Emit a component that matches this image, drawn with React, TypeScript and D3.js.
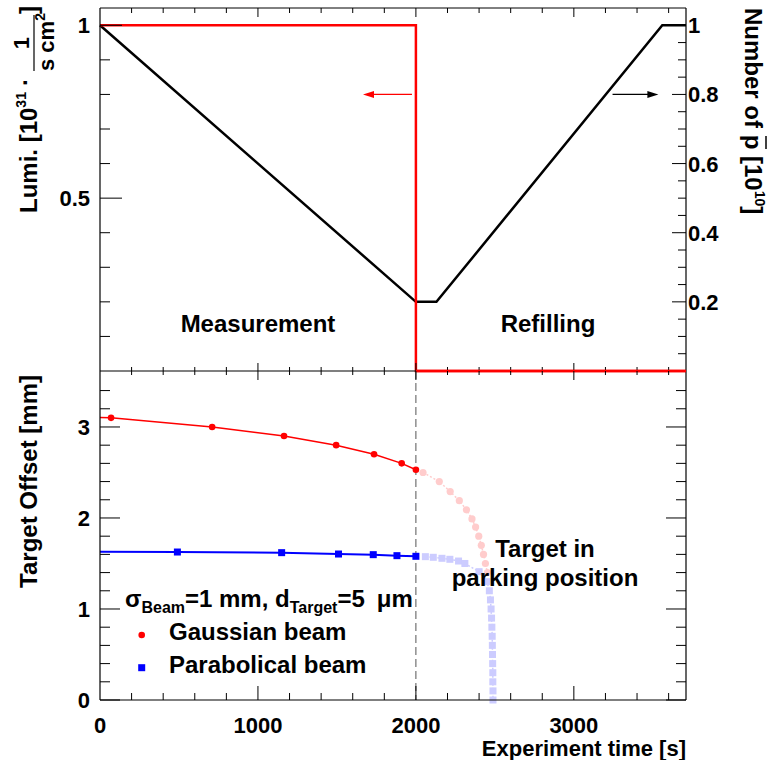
import React from "react";
import * as d3 from "d3";

// top pad: luminosity (left axis) and number of antiprotons (right axis)
const lumiTime = [0, 2000, 2000, 3710];
const lumiValue = [1, 1, 0, 0];
const pbarTime = [0, 2000, 2130, 3560, 3710];
const pbarValue = [1, 0.2, 0.2, 1, 1];

// bottom pad: target offset, measured part (solid) and parking part (faded)
const gaussLineStart = 3.105;
const gaussTime = [70, 710, 1165, 1495, 1735, 1910, 2000];
const gaussOffset = [3.1, 3.0, 2.9, 2.8, 2.7, 2.6, 2.53];
const gaussParkTime = [2045, 2148, 2217, 2275, 2320, 2355, 2378, 2398, 2414, 2428, 2440, 2453];
const gaussParkOffset = [2.5, 2.4, 2.29, 2.19, 2.09, 1.99, 1.9, 1.8, 1.7, 1.6, 1.5, 1.4];

const paraLineStart = 1.63;
const paraTime = [490, 1150, 1510, 1730, 1880, 2000];
const paraOffset = [1.626, 1.619, 1.604, 1.597, 1.586, 1.579];
const paraParkTime = [2060, 2110, 2165, 2215, 2270, 2310, 2400, 2450, 2465, 2472, 2476, 2479, 2481, 2483, 2484, 2485, 2486, 2487, 2487, 2488, 2488];
const paraParkOffset = [1.575, 1.568, 1.557, 1.546, 1.527, 1.5, 1.41, 1.3, 1.2, 1.1, 1.0, 0.9, 0.8, 0.7, 0.6, 0.5, 0.4, 0.3, 0.2, 0.1, 0.0];

const xTickLabels = ["0", "1000", "2000", "3000"];
const lumiTickLabels = ["0.5", "1"];
const pbarTickLabels = ["0.2", "0.4", "0.6", "0.8", "1"];
const offsetTickLabels = ["0", "1", "2", "3"];

const FONT = "'Liberation Sans', Arial, Helvetica, sans-serif";

export default function App() {
  const x = d3.scaleLinear().domain([0, 3710]).range([100, 686]);
  const yTop = d3.scaleLinear().domain([0, 1.05]).range([371, 8]);
  const yBot = d3.scaleLinear().domain([0, 3.615]).range([700, 371]);

  const zip = (a: number[], b: number[]) => a.map((t, i) => [t, b[i]] as [number, number]);

  const lineTop = d3.line<[number, number]>().x((d) => x(d[0])).y((d) => yTop(d[1]));
  const lineBot = d3.line<[number, number]>().x((d) => x(d[0])).y((d) => yBot(d[1]));

  const gaussPts = zip(gaussTime, gaussOffset);
  const paraPts = zip(paraTime, paraOffset);
  const gaussPark = zip(gaussParkTime, gaussParkOffset);
  const paraPark = zip(paraParkTime, paraParkOffset);

  const xMinor = d3.range(200, 3701, 200).filter((v) => v % 1000 !== 0);
  const xMajor = d3.range(1000, 3001, 1000);

  const lumiMinor = d3.range(1, 11).map((v) => v / 10).filter((v) => v !== 0.5 && v !== 1);
  const pbarMinor = d3.range(1, 21).map((v) => v / 20).filter((v) => Math.round(v * 20) % 4 !== 0);
  const offMinor = d3.range(1, 18).map((v) => v / 5).filter((v) => Math.abs(v - Math.round(v)) > 1e-6);

  const tp = { fontFamily: FONT, fontWeight: "bold" as const };

  const arrowHead = (tipX: number, y: number, dir: number, color: string) => (
    <path d={`M${tipX},${y} L${tipX - dir * 11},${y - 3.5} L${tipX - dir * 11},${y + 3.5} Z`} fill={color} />
  );

  return (
    <svg width={774} height={760} style={{ position: "absolute", left: 0, top: 0, background: "#fff" }}>
      <rect width={774} height={760} fill="#fff" />
      {/* ---------- top pad ---------- */}
      <g>
        <path d={lineTop(zip(pbarTime, pbarValue)) || ""} fill="none" stroke="#000" strokeWidth={2.5} />
        <path d={lineTop(zip(lumiTime, lumiValue)) || ""} fill="none" stroke="#ff0000" strokeWidth={2.5} />

        {/* frame */}
        <line x1={100} x2={686} y1={yTop(1.05)} y2={yTop(1.05)} stroke="#000" strokeWidth={1} />
        <line x1={100} x2={100} y1={yTop(1.05)} y2={yTop(0)} stroke="#000" strokeWidth={1.2} />
        <line x1={686} x2={686} y1={yTop(1.05)} y2={yTop(0)} stroke="#000" strokeWidth={1.2} />

        {xMinor.map((v) => (
          <g key={"tm" + v}>
            <line x1={x(v)} x2={x(v)} y1={8} y2={13} stroke="#000" />
            <line x1={x(v)} x2={x(v)} y1={371} y2={367} stroke="#000" />
          </g>
        ))}
        {xMajor.map((v) => (
          <g key={"tM" + v}>
            <line x1={x(v)} x2={x(v)} y1={8} y2={17} stroke="#000" />
            <line x1={x(v)} x2={x(v)} y1={371} y2={363} stroke="#000" />
          </g>
        ))}

        {/* left axis */}
        {lumiMinor.map((v) => (
          <line key={"lm" + v} x1={100} x2={110} y1={yTop(v)} y2={yTop(v)} stroke="#000" />
        ))}
        {lumiTickLabels.map((s) => (
          <g key={"lM" + s}>
            <line x1={100} x2={122} y1={yTop(+s)} y2={yTop(+s)} stroke="#000" />
            <text x={90} y={yTop(+s) + 8} textAnchor="end" fontSize={22} {...tp}>{s}</text>
          </g>
        ))}

        {/* right axis */}
        {pbarMinor.map((v) => (
          <line key={"pm" + v} x1={686} x2={678} y1={yTop(v)} y2={yTop(v)} stroke="#000" />
        ))}
        {pbarTickLabels.map((s) => (
          <g key={"pM" + s}>
            <line x1={686} x2={672} y1={yTop(+s)} y2={yTop(+s)} stroke="#000" />
            <text x={688} y={yTop(+s) + 8} textAnchor="start" fontSize={22} {...tp}>{s}</text>
          </g>
        ))}

        {/* arrows */}
        <line x1={x(1975)} x2={x(1700)} y1={yTop(0.8)} y2={yTop(0.8)} stroke="#ff0000" strokeWidth={1.2} />
        {arrowHead(x(1665), yTop(0.8), -1, "#ff0000")}
        <line x1={x(3245)} x2={x(3500)} y1={yTop(0.8)} y2={yTop(0.8)} stroke="#000" strokeWidth={1.2} />
        {arrowHead(x(3535), yTop(0.8), 1, "#000")}

        <text x={258} y={332} textAnchor="middle" fontSize={24} {...tp}>Measurement</text>
        <text x={548} y={332} textAnchor="middle" fontSize={24} {...tp}>Refilling</text>

        {/* left title */}
        <g transform="translate(37,213) rotate(-90)" {...tp}>
          <text x={0} y={0} fontSize={24}>
            Lumi. [10<tspan dy={-11} fontSize={14}>31</tspan>
          </text>
          <text x={127} y={-4} fontSize={24}>·</text>
          <text x={170} y={-8} fontSize={22} textAnchor="middle">1</text>
          <line x1={142} x2={198} y1={-3} y2={-3} stroke="#000" strokeWidth={1.2} />
          <text x={142} y={17} fontSize={22}>
            s cm<tspan dy={-9} fontSize={14}>2</tspan>
          </text>
          <text x={199} y={0} fontSize={24}>]</text>
        </g>

        {/* right title */}
        <g transform="translate(745,8) rotate(90)" {...tp}>
          <text x={0} y={0} fontSize={24}>
            Number of p [10<tspan dy={-10} fontSize={14}>10</tspan>
            <tspan dy={10}>]</tspan>
          </text>
          <line x1={128} x2={141} y1={-21} y2={-21} stroke="#000" strokeWidth={1.5} />
        </g>
      </g>

      {/* ---------- bottom pad ---------- */}
      <g>
        <line x1={x(2000)} x2={x(2000)} y1={371} y2={700} stroke="#555" strokeWidth={1} strokeDasharray="8 4" />

        {/* faded parking curves */}
        <path d={lineBot(paraPark) || ""} fill="none" stroke="#ccccff" strokeWidth={1.5} strokeDasharray="2 2" />
        {paraPark.map((d, i) => (
          <rect key={"pp" + i} x={x(d[0]) - 3.5} y={yBot(d[1]) - 3.5} width={7} height={7} fill="#ccccff" />
        ))}
        <path d={lineBot(gaussPark) || ""} fill="none" stroke="#ffcccc" strokeWidth={1.5} strokeDasharray="2 2" />
        {gaussPark.map((d, i) => (
          <circle key={"gp" + i} cx={x(d[0])} cy={yBot(d[1])} r={3.6} fill="#ffcccc" />
        ))}

        {/* measured curves */}
        <path d={lineBot([[0, gaussLineStart], ...gaussPts]) || ""} fill="none" stroke="#ff0000" strokeWidth={1.5} />
        {gaussPts.map((d, i) => (
          <circle key={"g" + i} cx={x(d[0])} cy={yBot(d[1])} r={3.3} fill="#ff0000" />
        ))}
        <path d={lineBot([[0, paraLineStart], ...paraPts]) || ""} fill="none" stroke="#0000ff" strokeWidth={2} />
        {paraPts.map((d, i) => (
          <rect key={"p" + i} x={x(d[0]) - 3.5} y={yBot(d[1]) - 3.5} width={7} height={7} fill="#0000ff" />
        ))}

        {/* frame */}
        <line x1={100} x2={686} y1={371} y2={371} stroke="#000" strokeWidth={1.2} />
        <line x1={100} x2={686} y1={700} y2={700} stroke="#000" strokeWidth={1.2} />
        <line x1={100} x2={100} y1={371} y2={700} stroke="#000" strokeWidth={1.2} />
        <line x1={686} x2={686} y1={371} y2={700} stroke="#000" strokeWidth={1.2} />
        {/* red lumi zero line sits on the pad border */}
        <line x1={x(2000)} x2={686} y1={371} y2={371} stroke="#ff0000" strokeWidth={2.5} />

        {xMinor.map((v) => (
          <g key={"bm" + v}>
            <line x1={x(v)} x2={x(v)} y1={700} y2={693} stroke="#000" />
            <line x1={x(v)} x2={x(v)} y1={371} y2={375} stroke="#000" />
          </g>
        ))}
        {xMajor.map((v) => (
          <g key={"bM" + v}>
            <line x1={x(v)} x2={x(v)} y1={700} y2={686} stroke="#000" />
            <line x1={x(v)} x2={x(v)} y1={371} y2={380} stroke="#000" />
          </g>
        ))}
        {xTickLabels.map((s) => (
          <text key={"xl" + s} x={x(+s)} y={733} textAnchor="middle" fontSize={22} {...tp}>{s}</text>
        ))}

        {offMinor.map((v) => (
          <g key={"om" + v}>
            <line x1={100} x2={110} y1={yBot(v)} y2={yBot(v)} stroke="#000" />
            <line x1={686} x2={676} y1={yBot(v)} y2={yBot(v)} stroke="#000" />
          </g>
        ))}
        {offsetTickLabels.map((s) => (
          <g key={"oM" + s}>
            <line x1={100} x2={120} y1={yBot(+s)} y2={yBot(+s)} stroke="#000" />
            <line x1={686} x2={666} y1={yBot(+s)} y2={yBot(+s)} stroke="#000" />
            <text x={90} y={yBot(+s) + 8} textAnchor="end" fontSize={22} {...tp}>{s}</text>
          </g>
        ))}

        <text transform="translate(37,375) rotate(-90)" textAnchor="end" fontSize={24} {...tp}>
          Target Offset [mm]
        </text>
        <text x={686} y={756} textAnchor="end" fontSize={22} {...tp}>Experiment time [s]</text>

        {/* legend */}
        <text x={125} y={607} fontSize={24} {...tp}>
          σ<tspan dy={6} fontSize={16}>Beam</tspan>
          <tspan dy={-6}>=1 mm, d</tspan>
          <tspan dy={6} fontSize={16}>Target</tspan>
          <tspan dy={-6}>=5</tspan>
          <tspan dx={12}>μm</tspan>
        </text>
        <circle cx={141.7} cy={635} r={3.3} fill="#ff0000" />
        <text x={169} y={640} fontSize={24} {...tp}>Gaussian beam</text>
        <rect x={138.2} y={664.2} width={7} height={7} fill="#0000ff" />
        <text x={169} y={673} fontSize={24} {...tp}>Parabolical beam</text>

        <text x={545} y={557} textAnchor="middle" fontSize={24} {...tp}>Target in</text>
        <text x={545} y={586} textAnchor="middle" fontSize={24} {...tp}>parking position</text>
      </g>
    </svg>
  );
}
